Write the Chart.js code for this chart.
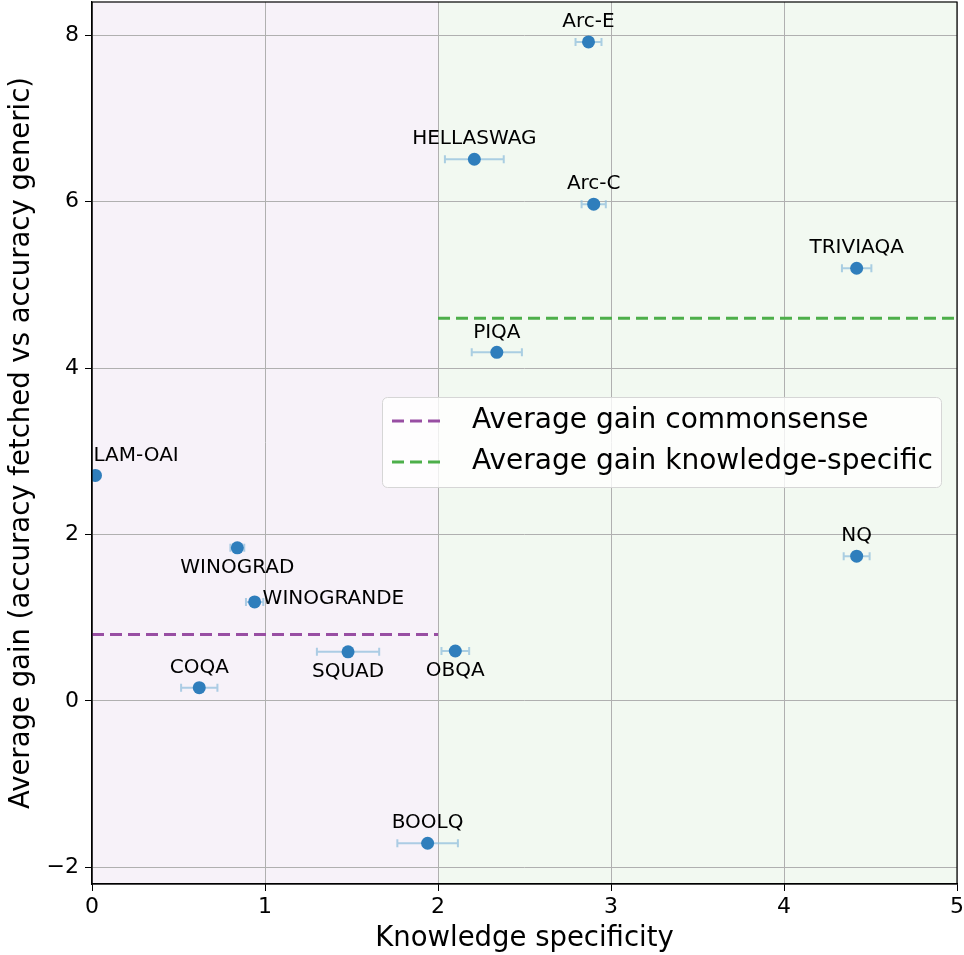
<!DOCTYPE html>
<html>
<head>
<meta charset="utf-8">
<script src="https://cdn.jsdelivr.net/npm/chart.js@4.4.1/dist/chart.umd.min.js"></script>
<style>
  html, body { margin: 0; padding: 0; background: #fff; }
  #wrap { width: 964px; height: 955px; }
</style>
</head>
<body>
<div id="wrap"><canvas id="c" width="964" height="955"></canvas></div>
<script>
// data
const datasetNames = ['Arc-E', 'HELLASWAG', 'Arc-C', 'TRIVIAQA', 'PIQA', 'LAM-OAI', 'WINOGRAD',
  'WINOGRANDE', 'NQ', 'COQA', 'SQUAD', 'OBQA', 'BOOLQ'];
const specificity = [2.87, 2.21, 2.90, 4.42, 2.34, 0.02, 0.84, 0.94, 4.42, 0.62, 1.48, 2.10, 1.94];
const gain = [7.92, 6.51, 5.97, 5.20, 4.19, 2.71, 1.84, 1.19, 1.74, 0.16, 0.59, 0.60, -1.71];
const specificityErr = [0.075, 0.17, 0.07, 0.085, 0.145, 0, 0.04, 0.05, 0.075, 0.105, 0.18, 0.08, 0.175];

const avgCommonsense = 0.80;
const avgKnowledge = 4.60;
const splitAt = 2;
const xTicks = [0, 1, 2, 3, 4, 5];
const yTicks = [-2, 0, 2, 4, 6, 8];

// where each name goes relative to its point (style only)
const labelPlacement = ['above', 'above', 'above', 'above', 'above', 'left', 'below',
  'right', 'above', 'above', 'below', 'below', 'above'];

const FONT = "'DejaVu Sans', sans-serif";
const PURPLE = '#984ea3';
const GREEN = '#4daf4a';

const extrasPlugin = {
  id: 'extras',
  beforeDraw(chart) {
    const { ctx, chartArea: a, scales: { x } } = chart;
    const xs = x.getPixelForValue(splitAt);
    ctx.save();
    ctx.fillStyle = '#f7f2f9';
    ctx.fillRect(a.left, a.top, xs - a.left, a.bottom - a.top);
    ctx.fillStyle = '#f2f9f1';
    ctx.fillRect(xs, a.top, a.right - xs, a.bottom - a.top);
    ctx.restore();
  },
  beforeDatasetsDraw(chart) {
    const { ctx, scales: { x, y } } = chart;
    ctx.save();
    ctx.strokeStyle = 'rgba(140,188,220,0.7)';
    ctx.lineWidth = 2;
    specificity.forEach((v, i) => {
      const e = specificityErr[i];
      if (!e) return;
      const x0 = x.getPixelForValue(v - e), x1 = x.getPixelForValue(v + e);
      const py = y.getPixelForValue(gain[i]);
      ctx.beginPath();
      ctx.moveTo(x0, py); ctx.lineTo(x1, py);
      ctx.moveTo(x0, py - 4); ctx.lineTo(x0, py + 4);
      ctx.moveTo(x1, py - 4); ctx.lineTo(x1, py + 4);
      ctx.stroke();
    });
    ctx.restore();
  },
  afterDatasetsDraw(chart) {
    const { ctx, scales: { x, y } } = chart;
    ctx.save();
    ctx.fillStyle = '#000';
    ctx.font = '20px ' + FONT;
    ctx.textBaseline = 'middle';
    datasetNames.forEach((name, i) => {
      const px = x.getPixelForValue(specificity[i]);
      const py = y.getPixelForValue(gain[i]);
      const p = labelPlacement[i];
      if (p === 'above') { ctx.textAlign = 'center'; ctx.fillText(name, px, py - 20); }
      else if (p === 'below') { ctx.textAlign = 'center'; ctx.fillText(name, px, py + 20); }
      else if (p === 'right') { ctx.textAlign = 'left'; ctx.fillText(name, px + 8, py - 3); }
      else { ctx.textAlign = 'left'; ctx.fillText(name, px - 2, py - 20); }
    });
    ctx.restore();
  },
  afterDraw(chart) {
    const { ctx, chartArea: a } = chart;
    ctx.save();
    // frame
    ctx.strokeStyle = '#000';
    ctx.lineWidth = 1.2;
    ctx.strokeRect(a.left, a.top, a.right - a.left, a.bottom - a.top);

    // legend box
    const bx = 382, by = 397, bw = 559, bh = 90;
    ctx.fillStyle = 'rgba(255,255,255,0.8)';
    ctx.strokeStyle = '#d6d6d6';
    ctx.lineWidth = 1;
    ctx.beginPath();
    ctx.roundRect(bx + 0.5, by + 0.5, bw, bh, 5);
    ctx.fill();
    ctx.stroke();
    const items = [['Average gain commonsense', PURPLE], ['Average gain knowledge-specific', GREEN]];
    ctx.font = '28px ' + FONT;
    ctx.textBaseline = 'middle';
    ctx.textAlign = 'left';
    items.forEach(([txt, col], k) => {
      const ly = by + 24 + k * 41;
      ctx.strokeStyle = col;
      ctx.lineWidth = 3;
      ctx.setLineDash([12, 6]);
      ctx.beginPath();
      ctx.moveTo(392, ly); ctx.lineTo(446, ly);
      ctx.stroke();
      ctx.setLineDash([]);
      ctx.fillStyle = '#000';
      ctx.fillText(txt, 472, ly);
    });
    ctx.restore();
  }
};

const points = specificity.map((v, i) => ({ x: v, y: gain[i] }));

new Chart(document.getElementById('c'), {
  type: 'scatter',
  data: {
    datasets: [
      {
        label: 'Average gain commonsense',
        type: 'line',
        data: [{ x: 0, y: avgCommonsense }, { x: splitAt, y: avgCommonsense }],
        borderColor: PURPLE,
        borderWidth: 3,
        borderDash: [12, 6],
        pointRadius: 0,
        order: 2
      },
      {
        label: 'Average gain knowledge-specific',
        type: 'line',
        data: [{ x: splitAt, y: avgKnowledge }, { x: 5, y: avgKnowledge }],
        borderColor: GREEN,
        borderWidth: 3,
        borderDash: [12, 6],
        pointRadius: 0,
        order: 2
      },
      {
        label: 'datasets',
        data: points,
        backgroundColor: '#2f7ebc',
        borderWidth: 0,
        pointRadius: 6.5,
        pointHoverRadius: 6.5,
        order: 1
      }
    ]
  },
  options: {
    responsive: false,
    animation: false,
    layout: { autoPadding: false, padding: { top: 2, right: 7, left: 0, bottom: 0 } },
    plugins: { legend: { display: false }, tooltip: { enabled: false } },
    scales: {
      x: {
        type: 'linear',
        min: 0, max: 5,
        afterBuildTicks: s => { s.ticks = xTicks.map(v => ({ value: v })); },
        afterFit: s => { s.height = 71; s.paddingLeft = 0; s.paddingRight = 0; },
        grid: { color: '#b0b0b0', lineWidth: 1, tickColor: '#000', tickLength: 7 },
        border: { color: '#000', width: 1.2 },
        ticks: { color: '#000', font: { family: FONT, size: 22 }, padding: 3,
          callback: v => String(v).replace('-', '\u2212') },
        title: { display: true, text: 'Knowledge specificity', color: '#000',
          font: { family: FONT, size: 27.5 }, padding: { top: 0, bottom: 0 } }
      },
      y: {
        type: 'linear',
        min: -2.2, max: 8.4,
        afterBuildTicks: s => { s.ticks = yTicks.map(v => ({ value: v })); },
        afterFit: s => { s.width = 92; s.paddingTop = 0; s.paddingBottom = 0; },
        grid: { color: '#b0b0b0', lineWidth: 1, tickColor: '#000', tickLength: 7 },
        border: { color: '#000', width: 1.2 },
        ticks: { color: '#000', font: { family: FONT, size: 22 }, padding: 6,
          callback: v => String(v).replace('-', '\u2212') },
        title: { display: true, text: 'Average gain (accuracy fetched vs accuracy generic)', color: '#000',
          font: { family: FONT, size: 27.5 }, padding: { top: 5, bottom: 0 } }
      }
    }
  },
  plugins: [extrasPlugin]
});
</script>
</body>
</html>
